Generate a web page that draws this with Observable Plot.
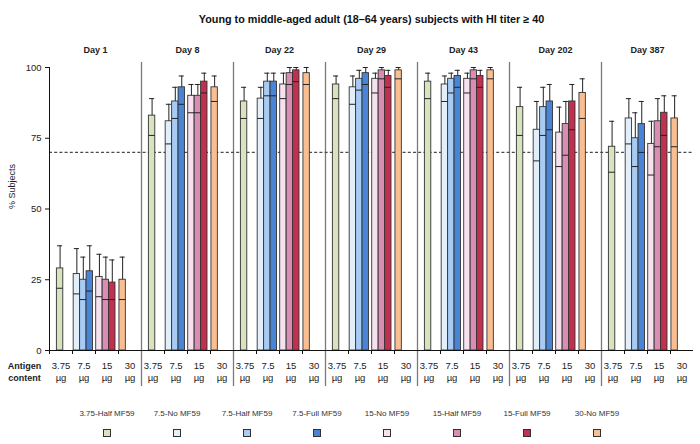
<!DOCTYPE html>
<html>
<head>
<meta charset="utf-8">
<script src="https://cdn.jsdelivr.net/npm/d3@7"></script>
<script src="https://cdn.jsdelivr.net/npm/@observablehq/plot@0.6"></script>
<style>
  body { margin: 0; background: #fff; }
  #wrap { width: 700px; height: 444px; position: relative; font-family: "Liberation Sans", Arial, sans-serif; }
  #legend { position: relative; width: 700px; height: 49px; font-size: 8px; color: #333; }
  .li { position: absolute; width: 70px; text-align: center; }
  .sw { position: absolute; width: 6px; height: 6px; border: 1px solid #333; }
</style>
</head>
<body>
<div id="wrap"></div>
<script>
const title = "Young to middle-aged adult (18\u201364 years) subjects with HI titer \u2265 40";
const days = ["Day 1", "Day 8", "Day 22", "Day 29", "Day 43", "Day 202", "Day 387"];
const groups = ["3.75-Half MF59", "7.5-No MF59", "7.5-Half MF59", "7.5-Full MF59",
                "15-No MF59", "15-Half MF59", "15-Full MF59", "30-No MF59"];
const antigen = ["3.75", "7.5", "15", "30"];
const yTicks = [0, 25, 50, 75, 100];
const threshold = 70;

// % subjects, per day (columns follow `groups`)
const pct = [
  [29, 27, 25, 28, 26, 25, 24, 25],
  [83, 81, 88, 93, 90, 90, 95, 93],
  [88, 89, 95, 95, 94, 98, 99, 98],
  [94, 93, 96, 98, 96, 99, 97, 99],
  [95, 94, 96, 97, 96, 99, 97, 99],
  [86, 78, 86, 88, 77, 80, 88, 91],
  [72, 82, 75, 80, 73, 81, 84, 82]
];
// lower 95% CI
const lower = [
  [22, 20, 18, 21, 19, 18, 18, 18],
  [76, 73, 82, 87, 84, 84, 91, 88],
  [82, 82, 90, 90, 89, 94, 95, 94],
  [89, 87, 92, 94, 91, 96, 93, 96],
  [89, 88, 91, 93, 91, 96, 93, 96],
  [76, 67, 76, 78, 65, 69, 78, 82],
  [63, 73, 65, 70, 62, 72, 76, 72]
];
// upper 95% CI
const upper = [
  [37, 36, 33, 37, 34, 33, 32, 33],
  [89, 87, 93, 97, 94, 94, 98, 97],
  [93, 93, 98, 98, 98, 100, 100, 100],
  [97, 97, 99, 100, 98, 100, 99, 100],
  [98, 97, 98, 99, 98, 100, 99, 100],
  [93, 88, 93, 94, 86, 88, 94, 96],
  [81, 89, 84, 88, 81, 89, 90, 90]
];

const colors = ["#d9e4bf", "#e3eefb", "#a7cbf3", "#4a84d6", "#f6e2ee", "#da8db3", "#c1304f", "#f9bf93"];

// layout: bar centres inside a day block of 4 antigen slots (one slot = 1 unit)
const slotCenter = [0.46, 1.19, 1.47, 1.75, 2.17, 2.45, 2.73, 3.18];
const bw = 0.278;
const nd = days.length;

const W = 700, H = 395, ML = 49, MR = 7, MT = 67, MB = 45;
const xPerPx = (nd * 4) / (W - ML - MR);
const yPerPx = 100 / (H - MT - MB);

const rows = [];
days.forEach((d, i) => groups.forEach((g, j) => {
  const c = i * 4 + slotCenter[j];
  rows.push({day: d, g, v: pct[i][j], lo: lower[i][j], hi: upper[i][j], c, x1: c - bw / 2, x2: c + bw / 2});
}));

const tickPos = d3.range(0, nd * 4).filter(k => k % 4 !== 0);
const sepPos = d3.range(1, nd).map(i => i * 4);
const labelRows = [];
days.forEach((d, i) => antigen.forEach((a, k) => labelRows.push({x: i * 4 + k + 0.5, t: a + "\n\u00b5g"})));

const chart = Plot.plot({
  width: W, height: H,
  marginLeft: ML, marginRight: MR, marginTop: MT, marginBottom: MB,
  x: {domain: [0, nd * 4], axis: null},
  y: {domain: [0, 100], axis: null},
  color: {domain: groups, range: colors},
  style: {fontFamily: "'Liberation Sans', Arial, sans-serif", fontSize: "9px", color: "#222", background: "#fff"},
  marks: [
    // panel separators
    Plot.ruleX(sepPos, {x: d => d, y1: () => -36 * yPerPx, y2: () => 100 + 5 * yPerPx, stroke: "#7a7a7a", strokeWidth: 1.3}),
    // threshold
    Plot.ruleY([threshold], {stroke: "#4a4a4a", strokeWidth: 1.4, strokeDasharray: "3,2.2"}),
    // bars
    Plot.rect(rows, {x1: "x1", x2: "x2", y1: () => 0, y2: "v", fill: "g", stroke: "#333", strokeWidth: 0.9}),
    // lower CI line
    Plot.ruleY(rows, {y: "lo", x1: "x1", x2: "x2", stroke: "#222", strokeWidth: 1}),
    // whisker up
    Plot.ruleX(rows, {x: "c", y1: "v", y2: "hi", stroke: "#222", strokeWidth: 1}),
    // cap
    Plot.ruleY(rows, {y: "hi", x1: d => d.c - 0.11, x2: d => d.c + 0.11, stroke: "#222", strokeWidth: 1}),
    // axes
    Plot.ruleY([0], {stroke: "#111", strokeWidth: 1}),
    Plot.ruleX([0], {y1: () => -4 * yPerPx, y2: () => 100, stroke: "#111", strokeWidth: 1}),
    Plot.ruleY(yTicks, {y: d => d, x1: () => -4 * xPerPx, x2: () => 0, stroke: "#111"}),
    Plot.ruleX(tickPos, {x: d => d, y1: () => -4 * yPerPx, y2: () => 0, stroke: "#111"}),
    Plot.text(yTicks, {y: d => d, text: d => String(d), frameAnchor: "left", dx: -8, textAnchor: "end", fontSize: 9.5, fill: "#222"}),
    Plot.text(["% Subjects"], {frameAnchor: "left", dx: -37, rotate: -90, fontSize: 9, fill: "#222"}),
    Plot.text(labelRows, {x: "x", y: () => 0, text: "t", lineAnchor: "top", dy: 10, fontSize: 9.5, lineHeight: 1.25, fill: "#222"}),
    Plot.text(["Antigen\ncontent"], {frameAnchor: "bottom-left", dx: -25, dy: 10, lineAnchor: "top", textAnchor: "middle", fontWeight: "bold", fontSize: 9, lineHeight: 1.3, fill: "#222"}),
    // day labels
    Plot.text(days, {x: (d, i) => i * 4 + 2, y: () => 100, dy: -17, text: d => d, fontWeight: "bold", fontSize: 9, fill: "#222"}),
    // title
    Plot.text([title], {frameAnchor: "top", dy: -52, fontWeight: "bold", fontSize: 10.8, fill: "#111"})
  ]
});

const wrap = document.getElementById("wrap");
wrap.appendChild(chart);

const legend = document.createElement("div");
legend.id = "legend";
groups.forEach((g, i) => {
  const left = 72 + i * 70;
  const t = document.createElement("div");
  t.className = "li";
  t.style.left = left + "px";
  t.style.top = "14px";
  t.textContent = g;
  legend.appendChild(t);
  const s = document.createElement("div");
  s.className = "sw";
  s.style.left = (left + 31) + "px";
  s.style.top = "34px";
  s.style.background = colors[i];
  legend.appendChild(s);
});
wrap.appendChild(legend);
</script>
</body>
</html>
